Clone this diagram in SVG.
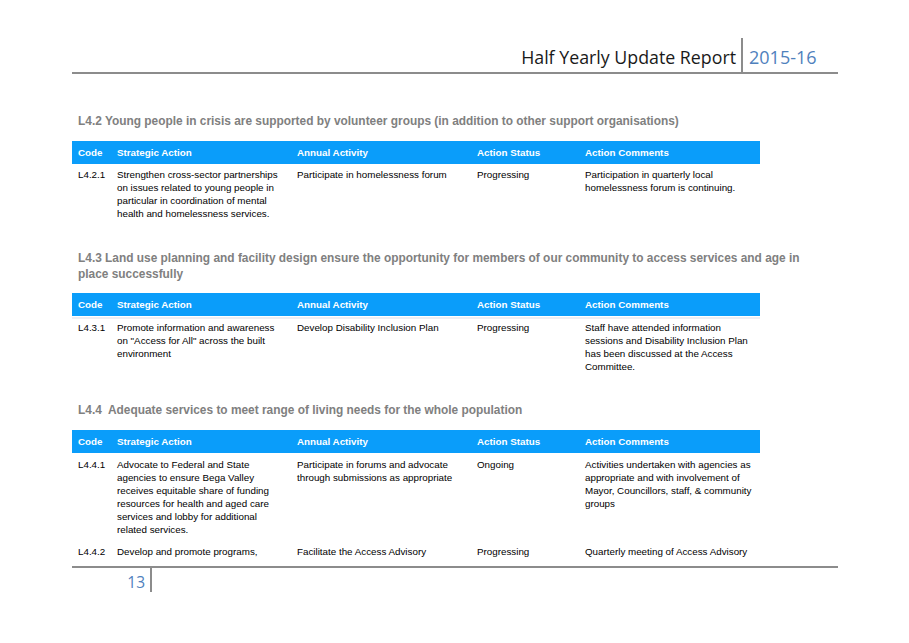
<svg xmlns="http://www.w3.org/2000/svg" width="909" height="643" viewBox="0 0 909 643">
<style>
.t{font-family:"Liberation Sans",Arial,sans-serif;font-size:9.8px;fill:#000}
.h{font-family:"Liberation Sans",Arial,sans-serif;font-size:9.8px;font-weight:bold;fill:#fff}
.s{font-family:"Liberation Sans",Arial,sans-serif;font-size:11.9px;font-weight:bold;fill:#808080}
.bar{fill:#0a9dfa}
.rule{stroke:#8c8c8c;stroke-width:2}
</style>
<rect width="909" height="643" fill="#fff"/>
<g id="page-header">
<text x="736" y="64" text-anchor="end" font-family="Open Sans,Noto Sans,sans-serif" font-size="17.8" fill="#1a1a1a">Half Yearly Update Report</text>
<line x1="742" y1="38" x2="742" y2="73" class="rule"/>
<text x="749" y="64" font-family="Open Sans,Noto Sans,sans-serif" font-size="18" fill="#4f81bd">2015-16</text>
<line x1="72" y1="73" x2="838" y2="73" class="rule"/>
</g>
<g id="section-L4.2">
<text x="78" y="125" class="s">L4.2 Young people in crisis are supported by volunteer groups (in addition to other support organisations)</text>
<rect x="72" y="141" width="688" height="23" class="bar"/>
<text class="h" y="156"><tspan x="78">Code</tspan><tspan x="117">Strategic Action</tspan><tspan x="297">Annual Activity</tspan><tspan x="477">Action Status</tspan><tspan x="585">Action Comments</tspan></text>
<text class="t"><tspan x="78" y="178">L4.2.1</tspan><tspan x="117" y="178">Strengthen cross-sector partnerships</tspan><tspan x="117" y="191">on issues related to young people in</tspan><tspan x="117" y="204">particular in coordination of mental</tspan><tspan x="117" y="217">health and homelessness services.</tspan><tspan x="297" y="178">Participate in homelessness forum</tspan><tspan x="477" y="178">Progressing</tspan><tspan x="585" y="178">Participation in quarterly local</tspan><tspan x="585" y="191">homelessness forum is continuing.</tspan></text>
</g>
<g id="section-L4.3">
<text class="s"><tspan x="78" y="262">L4.3 Land use planning and facility design ensure the opportunity for members of our community to access services and age in</tspan><tspan x="78" y="278">place successfully</tspan></text>
<rect x="72" y="293" width="688" height="23" class="bar"/>
<line x1="72" y1="318" x2="760" y2="318" stroke="#e6e9f0" stroke-width="1.5"/>
<text class="h" y="308"><tspan x="78">Code</tspan><tspan x="117">Strategic Action</tspan><tspan x="297">Annual Activity</tspan><tspan x="477">Action Status</tspan><tspan x="585">Action Comments</tspan></text>
<text class="t"><tspan x="78" y="331">L4.3.1</tspan><tspan x="117" y="331">Promote information and awareness</tspan><tspan x="117" y="344">on "Access for All" across the built</tspan><tspan x="117" y="357">environment</tspan><tspan x="297" y="331">Develop Disability Inclusion Plan</tspan><tspan x="477" y="331">Progressing</tspan><tspan x="585" y="331">Staff have attended information</tspan><tspan x="585" y="344">sessions and Disability Inclusion Plan</tspan><tspan x="585" y="357">has been discussed at the Access</tspan><tspan x="585" y="370">Committee.</tspan></text>
</g>
<g id="section-L4.4">
<text y="414" class="s"><tspan x="78">L4.4</tspan><tspan x="108">Adequate services to meet range of living needs for the whole population</tspan></text>
<rect x="72" y="430" width="688" height="23" class="bar"/>
<text class="h" y="445"><tspan x="78">Code</tspan><tspan x="117">Strategic Action</tspan><tspan x="297">Annual Activity</tspan><tspan x="477">Action Status</tspan><tspan x="585">Action Comments</tspan></text>
<text class="t"><tspan x="78" y="468">L4.4.1</tspan><tspan x="117" y="468">Advocate to Federal and State</tspan><tspan x="117" y="481">agencies to ensure Bega Valley</tspan><tspan x="117" y="494">receives equitable share of funding</tspan><tspan x="117" y="507">resources for health and aged care</tspan><tspan x="117" y="520">services and lobby for additional</tspan><tspan x="117" y="533">related services.</tspan><tspan x="297" y="468">Participate in forums and advocate</tspan><tspan x="297" y="481">through submissions as appropriate</tspan><tspan x="477" y="468">Ongoing</tspan><tspan x="585" y="468">Activities undertaken with agencies as</tspan><tspan x="585" y="481">appropriate and with involvement of</tspan><tspan x="585" y="494">Mayor, Councillors, staff, &amp; community</tspan><tspan x="585" y="507">groups</tspan></text>
<text class="t"><tspan x="78" y="555">L4.4.2</tspan><tspan x="117" y="555">Develop and promote programs,</tspan><tspan x="297" y="555">Facilitate the Access Advisory</tspan><tspan x="477" y="555">Progressing</tspan><tspan x="585" y="555">Quarterly meeting of Access Advisory</tspan></text>
</g>
<g id="page-footer">
<line x1="72" y1="567" x2="838" y2="567" class="rule"/>
<text x="145" y="588" text-anchor="end" font-family="Open Sans,Noto Sans,sans-serif" font-size="15.5" fill="#4f81bd">13</text>
<line x1="151" y1="567" x2="151" y2="592" class="rule"/>
</g>
</svg>
